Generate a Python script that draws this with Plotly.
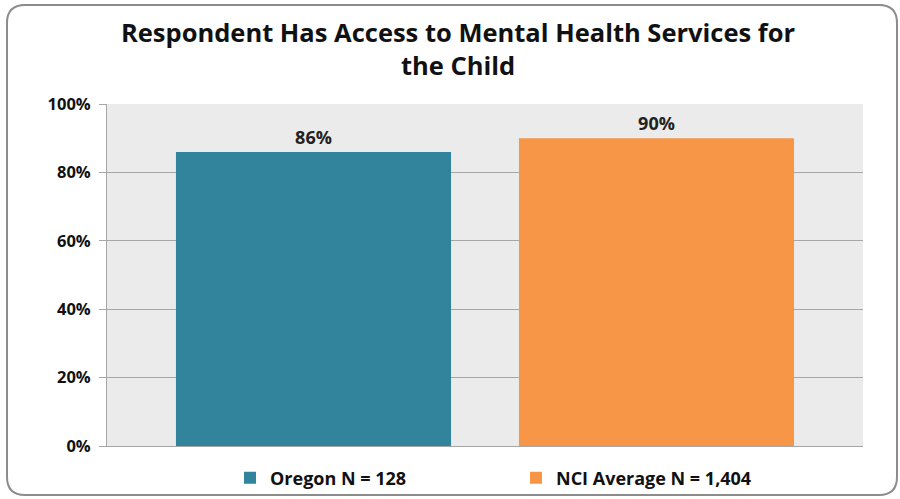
import plotly.graph_objects as go

series_names = ["Oregon N = 128", "NCI Average N = 1,404"]
values = [86, 90]
labels = ["86%", "90%"]
colors = ["#31849B", "#F79646"]
tick_vals = [0, 20, 40, 60, 80, 100]
tick_text = ["0%", "20%", "40%", "60%", "80%", "100%"]

FONT = "Open Sans"
fig = go.Figure()
for name, v, lab, c in zip(series_names, values, labels, colors):
    fig.add_trace(go.Bar(
        x=[""], y=[v], name=f"<b>{name}</b>", marker=dict(color=c, line=dict(width=0)),
        text=[lab], texttemplate="<b>%{text}</b>", textposition="outside", cliponaxis=False,
        textfont=dict(family=FONT, size=18, color="#222222"),
    ))

W, H = 900, 499
L, R, T, B = 107, 37, 104, 53
pw, ph = W - L - R, H - T - B

def px(x):
    return (x - L) / pw

def py(y):
    return (H - B - y) / ph

x0, x1, y0, y1 = px(7), px(897), py(5), py(495)
rx, ry = 18 / pw, 18 / ph
path = (f"M {x0+rx} {y0} L {x1-rx} {y0} Q {x1} {y0} {x1} {y0-ry} "
        f"L {x1} {y1+ry} Q {x1} {y1} {x1-rx} {y1} "
        f"L {x0+rx} {y1} Q {x0} {y1} {x0} {y1+ry} "
        f"L {x0} {y0-ry} Q {x0} {y0} {x0+rx} {y0} Z")

fig.update_layout(
    width=W, height=H,
    margin=dict(l=L, r=R, t=T, b=B, autoexpand=False),
    paper_bgcolor="white",
    plot_bgcolor="#EBEBEB",
    barmode="group",
    bargap=0.0926,
    bargroupgap=0.198,
    title=dict(
        text="<b>Respondent Has Access to Mental Health Services for<br>the Child</b>",
        x=458 / W, xanchor="center", y=1 - 42 / H, yanchor="middle",
        xref="container", yref="container",
        font=dict(family=FONT, size=25.5, color="#111111"),
    ),
    font=dict(family=FONT, color="#222222"),
    showlegend=True,
    legend=dict(
        orientation="h", xref="container", yref="container",
        x=230 / W, xanchor="left", y=1 - 478 / H, yanchor="middle",
        entrywidth=241, entrywidthmode="pixels", itemwidth=30,
        bgcolor="rgba(0,0,0,0)",
        font=dict(family=FONT, size=18, color="#111111"),
        itemclick=False, traceorder="normal",
    ),
    shapes=[dict(type="path", path=path, xref="paper", yref="paper",
                 line=dict(color="#8C8C8C", width=2), fillcolor="rgba(0,0,0,0)",
                 layer="below")],
)
fig.update_yaxes(
    range=[0, 100], tickvals=tick_vals, ticktext=[f"<b>{t}</b>" for t in tick_text],
    showgrid=True, gridcolor="#A6A6A6", gridwidth=1,
    showline=True, linecolor="#A6A6A6", linewidth=1,
    ticks="outside", ticklen=7, tickcolor="#A6A6A6", ticklabelstandoff=5,
    tickfont=dict(family=FONT, size=16.5, color="#111111"),
    zeroline=False, fixedrange=True,
)
fig.update_xaxes(
    showticklabels=False, showline=True, linecolor="#A6A6A6", linewidth=1,
    showgrid=False, fixedrange=True,
)
fig.write_html("out.html", config={"displayModeBar": False},
               post_script="document.body.style.margin='0px';")
